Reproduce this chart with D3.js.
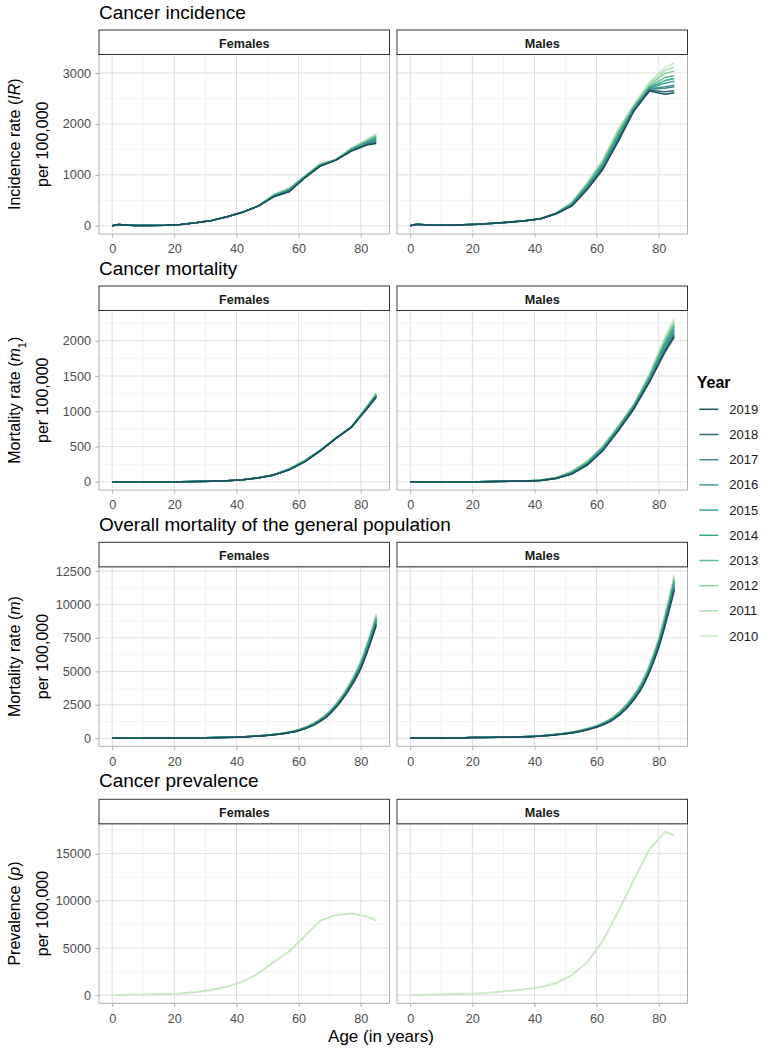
<!DOCTYPE html>
<html><head><meta charset="utf-8">
<script src="https://cdn.jsdelivr.net/npm/d3@7"></script>
<style>
body{margin:0;background:#fff;}
svg{display:block;font-family:"Liberation Sans",Arial,sans-serif;}
</style></head><body>
<svg id="chart" width="762" height="1049"></svg>
<script>
// ---------------- data ----------------
const years = [2010, 2011, 2012, 2013, 2014, 2015, 2016, 2017, 2018, 2019];
const yearColors = ["#c8e8c2", "#abdcb1", "#8ecfa3", "#5fbe94", "#34ad88", "#3aa295", "#46999c", "#43878d", "#2e6c77", "#18505b"];
const sexes = ["Females", "Males"];
const ages = [0, 2, 7, 12, 17, 22, 27, 32, 37, 42, 47, 52, 57, 62, 67, 72, 77, 82, 85];
const ages5 = [0, 5, 10, 15, 20, 25, 30, 35, 40, 45, 50, 55, 60, 65, 70, 75, 80, 85];
const xTicks = [0, 20, 40, 60, 80];

const incidenceTicks = [0, 1000, 2000, 3000];
const incidenceFemales = [
  [0,25,8,8,14,28,62,108,180,272,392,615,747,985,1225,1300,1530,1700,1810],
  [0,24,8,8,14,28,61,107,180,272,392,610,740,975,1215,1300,1520,1685,1790],
  [0,25,8,8,14,27,61,107,179,271,390,605,732,970,1210,1298,1512,1670,1770],
  [0,24,7,8,14,27,60,106,179,270,390,598,720,965,1200,1295,1505,1655,1750],
  [0,25,7,8,14,27,60,106,178,270,389,592,712,960,1195,1295,1500,1645,1730],
  [0,24,7,8,13,26,60,105,178,269,388,588,705,955,1190,1292,1495,1630,1710],
  [0,25,7,7,13,26,59,105,178,269,388,584,695,955,1185,1292,1488,1620,1690],
  [0,24,7,7,13,26,59,105,177,268,387,580,685,950,1180,1290,1480,1610,1670],
  [0,25,7,7,13,26,59,105,177,268,386,575,675,945,1175,1290,1472,1598,1640],
  [0,26,7,7,13,26,59,105,177,268,386,570,668,943,1172,1290,1467,1585,1617]
];
const incidenceMales = [
  [0,33,13,13,20,34,54,76,104,145,255,465,858,1303,1906,2384,2823,3104,3202],
  [0,32,13,13,20,34,54,75,103,144,252,455,840,1280,1880,2370,2790,3050,3110],
  [0,33,13,13,20,34,53,75,102,143,250,448,825,1260,1850,2350,2760,2990,3040],
  [0,32,13,13,20,33,53,74,101,142,248,438,805,1235,1820,2330,2735,2910,2950],
  [0,33,13,13,20,33,53,74,100,141,246,430,790,1215,1790,2320,2710,2850,2890],
  [0,32,13,13,20,33,52,73,100,140,244,420,775,1195,1760,2300,2700,2800,2840],
  [0,33,13,13,20,33,52,73,99,139,242,410,760,1170,1730,2290,2690,2730,2760],
  [0,32,13,13,20,33,52,72,99,139,240,402,745,1150,1710,2280,2680,2700,2730],
  [0,33,13,13,20,33,52,72,98,138,238,395,730,1125,1685,2265,2660,2630,2650],
  [0,33,13,13,20,33,52,72,98,138,236,386,714,1107,1663,2253,2646,2580,2613]
];

const mortalityTicks = [0, 500, 1000, 1500, 2000];
const mortalityFemales = [
  [0,1,1,1,2,3,6,10,18,31,60,102,190,308,452,622,782,1078,1262],
  [0,1,1,1,2,3,6,10,18,31,59,101,188,305,450,620,780,1072,1255],
  [0,1,1,1,2,3,6,10,17,30,59,100,185,302,448,620,779,1066,1246],
  [0,1,1,1,2,3,6,10,17,30,58,99,183,299,447,619,778,1060,1238],
  [0,1,1,1,2,3,5,9,17,30,58,98,181,296,446,619,777,1055,1230],
  [0,1,1,1,2,3,5,9,17,29,57,98,179,294,445,618,776,1050,1224],
  [0,1,1,1,2,3,5,9,16,29,57,97,177,291,443,618,775,1046,1218],
  [0,1,1,1,2,3,5,9,16,29,57,96,175,289,442,617,774,1042,1212],
  [0,1,1,1,2,3,5,9,16,28,56,96,172,286,441,617,774,1038,1206],
  [0,1,1,1,2,3,5,9,16,28,56,95,170,284,440,616,773,1035,1200]
];
const mortalityMales = [
  [0,1,1,1,2,3,5,8,14,25,62,156,299,512,796,1104,1531,2052,2313],
  [0,1,1,1,2,3,5,8,14,24,60,150,292,505,790,1098,1518,2030,2285],
  [0,1,1,1,2,3,5,8,13,23,58,144,285,497,782,1092,1505,2005,2255],
  [0,1,1,1,2,3,5,8,13,23,56,138,277,488,774,1085,1490,1980,2225],
  [0,1,1,1,2,3,5,7,13,22,55,132,270,480,766,1078,1476,1955,2195],
  [0,1,1,1,2,3,4,7,13,21,53,127,263,472,758,1070,1462,1930,2165],
  [0,1,1,1,2,3,4,7,12,21,51,122,256,464,750,1062,1449,1905,2135],
  [0,1,1,1,2,3,4,7,12,20,50,117,250,456,741,1053,1436,1880,2105],
  [0,1,1,1,2,3,4,7,12,20,48,113,243,448,733,1043,1424,1860,2078],
  [0,1,1,1,2,3,4,7,12,19,47,109,237,441,725,1033,1412,1839,2052]
];

const overallTicks = [0, 2500, 5000, 7500, 10000, 12500];
const overallFemales = [
  [30,12,10,18,25,30,40,65,100,160,250,400,660,1170,2050,3550,5800,9300],
  [30,12,10,18,24,30,40,64,98,158,246,393,648,1150,2020,3510,5740,9200],
  [29,12,10,17,24,29,39,63,97,155,242,386,636,1130,1995,3470,5680,9110],
  [29,11,10,17,23,29,39,62,95,153,238,379,624,1110,1970,3430,5620,9020],
  [28,11,10,17,23,28,38,61,94,151,234,372,612,1090,1945,3390,5560,8930],
  [28,11,10,16,22,27,37,60,92,149,230,366,600,1070,1915,3350,5500,8840],
  [27,11,10,16,22,27,37,59,91,147,226,360,590,1052,1890,3310,5430,8750],
  [27,10,10,16,21,26,36,57,89,144,222,354,580,1035,1860,3275,5360,8650],
  [26,10,10,15,21,26,35,56,87,142,218,347,570,1018,1830,3240,5280,8550],
  [26,10,10,15,20,25,35,55,85,140,214,340,560,1000,1800,3200,5200,8450]
];
const overallMales = [
  [40,14,14,30,65,75,90,120,165,260,400,620,980,1560,2680,4450,7550,12200],
  [40,14,14,30,64,74,88,118,162,255,392,609,962,1535,2640,4395,7470,12080],
  [39,14,14,29,63,73,87,116,159,250,385,598,944,1510,2600,4340,7390,11950],
  [39,13,13,29,62,72,85,114,156,245,378,587,926,1485,2560,4285,7310,11820],
  [38,13,13,28,61,71,84,112,153,240,371,576,908,1460,2520,4230,7230,11700],
  [38,13,13,28,60,70,82,110,150,235,364,565,890,1435,2480,4175,7150,11580],
  [37,13,13,27,58,69,80,108,147,230,357,554,872,1410,2440,4120,7070,11450],
  [37,12,12,26,57,67,78,106,144,224,350,543,856,1385,2400,4065,6990,11320],
  [36,12,12,26,56,66,77,104,141,218,340,532,843,1358,2360,4010,6900,11190],
  [36,12,12,25,55,65,75,102,138,212,330,520,830,1330,2320,3950,6800,11050]
];

const prevalenceTicks = [0, 5000, 10000, 15000];
const prevalenceYears = [2010];
const prevalenceFemales = [
  [0,20,50,80,120,180,330,550,900,1450,2300,3500,4650,6250,7900,8500,8650,8350,7900]
];
const prevalenceMales = [
  [0,30,60,100,140,190,300,450,620,850,1300,2100,3500,5750,8900,12250,15450,17300,16950]
];

// ---------------- layout ----------------
const svg = d3.select("#chart");
const FONT = '"Liberation Sans", Arial, sans-serif';
const colX = [99, 397];
const panelW = 290.5;
const stripTops = [30, 286, 542.3, 799.3];
const stripH = 24.5;
const panelH = 179.5;
const titleBaselines = [18.5, 275, 530.7, 787.3];

const rows = [
  {title: "Cancer incidence", lab: [["Incidence rate (", ""], ["IR", "i"], [")", ""]], ticks: incidenceTicks,
   x: ages, yrs: years, data: [incidenceFemales, incidenceMales], curve: d3.curveLinear},
  {title: "Cancer mortality", lab: [["Mortality rate (", ""], ["m", "i"], ["1", "sub"], [")", ""]], ticks: mortalityTicks,
   x: ages, yrs: years, data: [mortalityFemales, mortalityMales], curve: d3.curveLinear},
  {title: "Overall mortality of the general population", lab: [["Mortality rate (", ""], ["m", "i"], [")", ""]], ticks: overallTicks,
   x: ages5, yrs: years, data: [overallFemales, overallMales], curve: d3.curveMonotoneX},
  {title: "Cancer prevalence", lab: [["Prevalence (", ""], ["p", "i"], [")", ""]], ticks: prevalenceTicks,
   x: ages, yrs: prevalenceYears, data: [prevalenceFemales, prevalenceMales], curve: d3.curveLinear}
];

const xScale = d3.scaleLinear().domain([-4.25, 89.25]).range([0, panelW]);
const xMinor = [10, 30, 50, 70];

rows.forEach((row, r) => {
  const all = row.data.flat(2);
  const lo = d3.min(all), hi = d3.max(all), ext = (hi - lo) * 0.05;
  const y = d3.scaleLinear().domain([lo - ext, hi + ext]).range([panelH, 0]);
  const step = row.ticks[1] - row.ticks[0];
  const yMinor = [];
  for (let v = row.ticks[0] - step / 2; v <= hi + ext; v += step) if (v >= lo - ext) yMinor.push(v);
  const top = stripTops[r] + stripH;

  // row title
  svg.append("text").attr("x", colX[0]).attr("y", titleBaselines[r])
    .attr("font-size", 19).attr("fill", "#000").text(row.title);

  // y axis title (two lines)
  const cy = top + panelH / 2;
  const t1 = svg.append("text").attr("transform", `translate(20,${cy}) rotate(-90)`)
    .attr("text-anchor", "middle").attr("font-size", 16).attr("fill", "#000");
  row.lab.forEach(([s, st]) => {
    const ts = t1.append("tspan").text(s);
    if (st === "i") ts.attr("font-style", "italic");
    if (st === "sub") ts.attr("font-size", 11).attr("baseline-shift", "sub");
  });
  svg.append("text").attr("transform", `translate(48,${cy}) rotate(-90)`)
    .attr("text-anchor", "middle").attr("font-size", 16).attr("fill", "#000").text("per 100,000");

  sexes.forEach((sex, c) => {
    const g = svg.append("g").attr("transform", `translate(${colX[c]},${top})`);
    // grid
    g.selectAll(".hmin").data(yMinor).join("line")
      .attr("x1", 0).attr("x2", panelW).attr("y1", d => y(d)).attr("y2", d => y(d))
      .attr("stroke", "#ececec").attr("stroke-width", 0.6);
    g.selectAll(".vmin").data(xMinor).join("line")
      .attr("y1", 0).attr("y2", panelH).attr("x1", d => xScale(d)).attr("x2", d => xScale(d))
      .attr("stroke", "#ececec").attr("stroke-width", 0.6);
    g.selectAll(".hmaj").data(row.ticks).join("line")
      .attr("x1", 0).attr("x2", panelW).attr("y1", d => y(d)).attr("y2", d => y(d))
      .attr("stroke", "#dedede").attr("stroke-width", 1);
    g.selectAll(".vmaj").data(xTicks).join("line")
      .attr("y1", 0).attr("y2", panelH).attr("x1", d => xScale(d)).attr("x2", d => xScale(d))
      .attr("stroke", "#dedede").attr("stroke-width", 1);

    // lines
    const line = d3.line().x((d, i) => xScale(row.x[i])).y(d => y(d)).curve(row.curve);
    row.data[c].forEach((series, k) => {
      const yi = years.indexOf(row.yrs[k]);
      g.append("path").attr("d", line(series)).attr("fill", "none")
        .attr("stroke", yearColors[yi]).attr("stroke-width", r === 3 ? 1.9 : 1.5)
        .attr("stroke-linejoin", "round").attr("stroke-linecap", "butt");
    });

    // border
    g.append("rect").attr("x", 0).attr("y", 0).attr("width", panelW).attr("height", panelH)
      .attr("fill", "none").attr("stroke", "#b0b0b0").attr("stroke-width", 1);

    // strip
    svg.append("rect").attr("x", colX[c]).attr("y", stripTops[r]).attr("width", panelW).attr("height", stripH)
      .attr("fill", "#fff").attr("stroke", "#333").attr("stroke-width", 1);
    svg.append("text").attr("x", colX[c] + panelW / 2).attr("y", stripTops[r] + 17.6)
      .attr("text-anchor", "middle").attr("font-size", 12.6).attr("font-weight", "bold")
      .attr("fill", "#1a1a1a").text(sex);

    // x axis
    const xa = g.append("g").attr("transform", `translate(0,${panelH})`)
      .call(d3.axisBottom(xScale).tickValues(xTicks).tickSize(3.7).tickPadding(6.6));
    xa.select(".domain").remove();
    xa.selectAll("line").attr("stroke", "#b0b0b0");
    xa.selectAll("text").attr("font-size", 12.7).attr("fill", "#4d4d4d").attr("font-family", FONT);

    if (c === 0) {
      const ya = g.append("g")
        .call(d3.axisLeft(y).tickValues(row.ticks).tickSize(3.7).tickPadding(4.3).tickFormat(d3.format("d")));
      ya.select(".domain").remove();
      ya.selectAll("line").attr("stroke", "#b0b0b0");
      ya.selectAll("text").attr("font-size", 12.7).attr("fill", "#4d4d4d").attr("font-family", FONT);
    }
  });
});

// x axis title
svg.append("text").attr("x", 381).attr("y", 1041.5).attr("text-anchor", "middle")
  .attr("font-size", 17).attr("fill", "#000").text("Age (in years)");

// legend
const legendYears = years.slice().reverse();
svg.append("text").attr("x", 696.7).attr("y", 388).attr("font-size", 16).attr("font-weight", "bold")
  .attr("fill", "#000").text("Year");
const lg = svg.selectAll(".leg").data(legendYears).join("g")
  .attr("transform", (d, i) => `translate(0,${409.3 + i * 25.2})`);
lg.append("line").attr("x1", 699.3).attr("x2", 718.3).attr("y1", 0).attr("y2", 0)
  .attr("stroke", d => yearColors[years.indexOf(d)]).attr("stroke-width", 1.5);
lg.append("text").attr("x", 729.3).attr("y", 0).attr("dy", "0.35em").attr("font-size", 13)
  .attr("fill", "#1a1a1a").text(d => d);
</script>
</body></html>
